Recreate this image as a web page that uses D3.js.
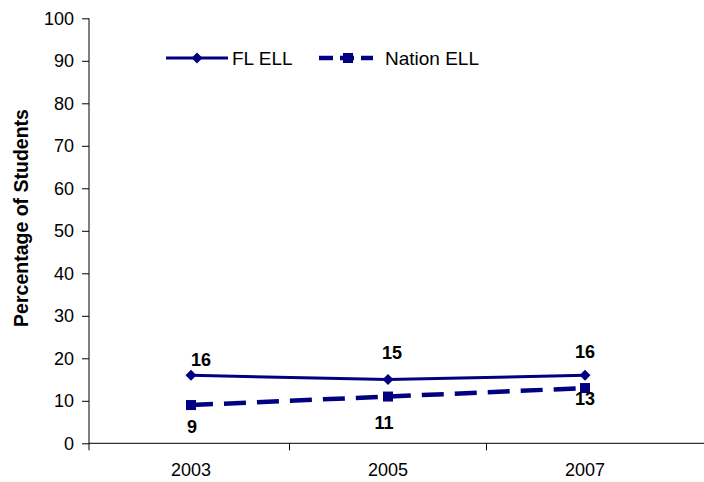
<!DOCTYPE html>
<html><head><meta charset="utf-8">
<script src="https://cdn.jsdelivr.net/npm/d3@7"></script>
<style>
html,body{margin:0;padding:0;background:#fff;}
svg{display:block;font-family:"Liberation Sans",Arial,sans-serif;}
</style></head>
<body>
<svg id="chart" width="704" height="482"></svg>
<script>
const years = ["2003", "2005", "2007"];
const flEll = [16, 15, 16];
const nationEll = [9, 11, 13];
const yTicks = [0, 10, 20, 30, 40, 50, 60, 70, 80, 90, 100];
const seriesNames = ["FL ELL", "Nation ELL"];

const svg = d3.select("#chart");
const color = "#000080";
const x0 = 89, yTop = 18.3, yBot = 443.3;

const x = d3.scaleBand().domain(years).range([92.5, 683.5]);
const y = d3.scaleLinear().domain([0, 100]).range([yBot, yTop]);

// Y axis
const yAxis = d3.axisLeft(y).tickValues(yTicks).tickSize(7).tickPadding(8);
const gy = svg.append("g").attr("transform", `translate(${x0},0)`).call(yAxis);
gy.select(".domain").remove();
gy.append("line").attr("x1", 0).attr("x2", 0).attr("y1", yTop).attr("y2", yBot + 7).attr("stroke", "#000").attr("stroke-width", 1);
gy.selectAll(".tick line").attr("stroke", "#000");
gy.selectAll(".tick text").attr("font-size", 18).attr("fill", "#000").attr("font-family", "Liberation Sans, Arial, sans-serif");

// X axis
const gx = svg.append("g").attr("transform", `translate(0,${yBot})`);
gx.append("line").attr("x1", x0).attr("x2", 704).attr("y1", 0).attr("y2", 0).attr("stroke", "#000");
years.slice(1).forEach(yr => {
  const bx = x(yr);
  gx.append("line").attr("x1", bx).attr("x2", bx).attr("y1", 0).attr("y2", 7).attr("stroke", "#000");
});
gx.selectAll("text.xl").data(years).enter().append("text")
  .attr("class", "xl")
  .attr("x", d => x(d) + x.bandwidth() / 2)
  .attr("y", 33)
  .attr("text-anchor", "middle")
  .attr("font-size", 18)
  .text(d => d);

// Y axis title
svg.append("text")
  .attr("transform", "translate(28,218) rotate(-90)")
  .attr("text-anchor", "middle")
  .attr("font-size", 19.5)
  .attr("font-weight", "bold")
  .text("Percentage of Students");

const cx = d => x(d) + x.bandwidth() / 2;
const line = d3.line().x(d => cx(d.year)).y(d => y(d.v));

const flData = years.map((yr, i) => ({ year: yr, v: flEll[i] }));
const naData = years.map((yr, i) => ({ year: yr, v: nationEll[i] }));

// Nation line (dashed)
svg.append("path").datum(naData).attr("d", line)
  .attr("fill", "none").attr("stroke", color).attr("stroke-width", 4.5)
  .attr("stroke-dasharray", "22,11");
// FL line
svg.append("path").datum(flData).attr("d", line)
  .attr("fill", "none").attr("stroke", color).attr("stroke-width", 3);

const diamondPath = "M0,-5.5L5.5,0L0,5.5L-5.5,0Z";
svg.selectAll("path.fl").data(flData).enter().append("path")
  .attr("class", "fl")
  .attr("transform", d => `translate(${cx(d.year)},${y(d.v)})`)
  .attr("d", diamondPath)
  .attr("fill", color);
svg.selectAll("rect.na").data(naData).enter().append("rect")
  .attr("class", "na")
  .attr("x", d => cx(d.year) - 5).attr("y", d => y(d.v) - 5)
  .attr("width", 10).attr("height", 10)
  .attr("fill", color);

// Data labels
const flLabelOff = [[10, -9], [4, -21], [0, -17]];
const naLabelOff = [[1, 28], [-4, 32], [0, 17]];
svg.selectAll("text.fll").data(flData).enter().append("text")
  .attr("x", (d, i) => cx(d.year) + flLabelOff[i][0])
  .attr("y", (d, i) => y(d.v) + flLabelOff[i][1])
  .attr("text-anchor", "middle").attr("font-size", 18).attr("font-weight", "bold")
  .text(d => d.v);
svg.selectAll("text.nal").data(naData).enter().append("text")
  .attr("x", (d, i) => cx(d.year) + naLabelOff[i][0])
  .attr("y", (d, i) => y(d.v) + naLabelOff[i][1])
  .attr("text-anchor", "middle").attr("font-size", 18).attr("font-weight", "bold")
  .text(d => d.v);

// Legend
const lg = svg.append("g");
lg.append("line").attr("x1", 166).attr("x2", 228).attr("y1", 58).attr("y2", 58)
  .attr("stroke", color).attr("stroke-width", 3);
lg.append("path").attr("transform", "translate(197,58)")
  .attr("d", diamondPath).attr("fill", color);
lg.append("text").attr("x", 232).attr("y", 65).attr("font-size", 19).text(seriesNames[0]);

lg.append("line").attr("x1", 319).attr("x2", 373).attr("y1", 58).attr("y2", 58)
  .attr("stroke", color).attr("stroke-width", 4.5).attr("stroke-dasharray", "14,7");
lg.append("rect").attr("x", 343).attr("y", 53).attr("width", 10).attr("height", 10).attr("fill", color);
lg.append("text").attr("x", 385).attr("y", 65).attr("font-size", 19).text(seriesNames[1]);
</script>
</body></html>
